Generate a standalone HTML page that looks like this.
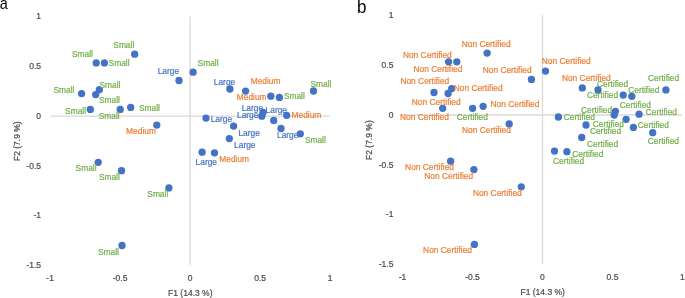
<!DOCTYPE html>
<html><head><meta charset="utf-8"><style>
html,body{margin:0;padding:0;background:#fff;}
svg{display:block;filter:blur(0.35px);}
text{font-family:"Liberation Sans",sans-serif;stroke-width:0.2px;paint-order:stroke;}
</style></head><body>
<svg width="685" height="298" viewBox="0 0 685 298">
<text transform="translate(-0.2,9.0) scale(0.9,1)" font-size="16" fill="#000">a</text>
<text transform="translate(357,12.6) scale(1,1.08)" font-size="17" fill="#000">b</text>
<g id="pa">
<g font-size="8.5">
<line x1="190.1" y1="16.3" x2="190.1" y2="264.7" stroke="#D9D9D9" stroke-width="1.3"/>
<line x1="49.9" y1="116.1" x2="329.9" y2="116.1" stroke="#D9D9D9" stroke-width="1.3"/>
<text x="41" y="19.2" text-anchor="end" fill="#4a4a4a" stroke="#4a4a4a">1</text>
<text x="41" y="69.4" text-anchor="end" fill="#4a4a4a" stroke="#4a4a4a">0.5</text>
<text x="41" y="118.9" text-anchor="end" fill="#4a4a4a" stroke="#4a4a4a">0</text>
<text x="41" y="169.2" text-anchor="end" fill="#4a4a4a" stroke="#4a4a4a">-0.5</text>
<text x="41" y="218.3" text-anchor="end" fill="#4a4a4a" stroke="#4a4a4a">-1</text>
<text x="41" y="268.1" text-anchor="end" fill="#4a4a4a" stroke="#4a4a4a">-1.5</text>
<text x="50.1" y="280.9" text-anchor="middle" fill="#4a4a4a" stroke="#4a4a4a">-1</text>
<text x="120.1" y="280.9" text-anchor="middle" fill="#4a4a4a" stroke="#4a4a4a">-0.5</text>
<text x="190.1" y="280.9" text-anchor="middle" fill="#4a4a4a" stroke="#4a4a4a">0</text>
<text x="260.1" y="280.9" text-anchor="middle" fill="#4a4a4a" stroke="#4a4a4a">0.5</text>
<text x="330.1" y="280.9" text-anchor="middle" fill="#4a4a4a" stroke="#4a4a4a">1</text>
<text x="190.3" y="296.0" text-anchor="middle" fill="#4a4a4a" stroke="#4a4a4a">F1 (14.3 %)</text>
<text transform="translate(19.9,141.2) rotate(-90)" text-anchor="middle" fill="#4a4a4a" stroke="#4a4a4a">F2 (7.9 %)</text>
</g>
<g fill="#4472C4">
<circle cx="96.2" cy="62.9" r="3.65"/>
<circle cx="104.4" cy="62.9" r="3.65"/>
<circle cx="134.7" cy="54.2" r="3.65"/>
<circle cx="81.6" cy="93.6" r="3.65"/>
<circle cx="99.3" cy="89.7" r="3.65"/>
<circle cx="95.7" cy="94.6" r="3.65"/>
<circle cx="90.3" cy="109.4" r="3.65"/>
<circle cx="120.2" cy="109.4" r="3.65"/>
<circle cx="130.7" cy="107.4" r="3.65"/>
<circle cx="156.8" cy="125.1" r="3.65"/>
<circle cx="193.1" cy="72.2" r="3.65"/>
<circle cx="179" cy="80.5" r="3.65"/>
<circle cx="229.9" cy="89.0" r="3.65"/>
<circle cx="245.6" cy="91.1" r="3.65"/>
<circle cx="270.8" cy="96.2" r="3.65"/>
<circle cx="279.4" cy="97.4" r="3.65"/>
<circle cx="313.5" cy="91.0" r="3.65"/>
<circle cx="206" cy="118.1" r="3.65"/>
<circle cx="233.6" cy="126.1" r="3.65"/>
<circle cx="229.3" cy="138.6" r="3.65"/>
<circle cx="263.0" cy="112.4" r="3.65"/>
<circle cx="261.8" cy="116.2" r="3.65"/>
<circle cx="273.7" cy="120.4" r="3.65"/>
<circle cx="286.7" cy="115.3" r="3.65"/>
<circle cx="281" cy="128.5" r="3.65"/>
<circle cx="300.3" cy="133.8" r="3.65"/>
<circle cx="202.1" cy="152.2" r="3.65"/>
<circle cx="214.5" cy="152.8" r="3.65"/>
<circle cx="98.2" cy="162.3" r="3.65"/>
<circle cx="121.5" cy="170.7" r="3.65"/>
<circle cx="168.9" cy="187.9" r="3.65"/>
<circle cx="122" cy="245.5" r="3.65"/>
</g>
</g>
<g transform="translate(352.4,-1.1)">
<g font-size="8.5">
<line x1="190.1" y1="16.3" x2="190.1" y2="264.7" stroke="#D9D9D9" stroke-width="1.3"/>
<line x1="49.9" y1="116.1" x2="329.9" y2="116.1" stroke="#D9D9D9" stroke-width="1.3"/>
<text x="41" y="19.2" text-anchor="end" fill="#4a4a4a" stroke="#4a4a4a">1</text>
<text x="41" y="69.4" text-anchor="end" fill="#4a4a4a" stroke="#4a4a4a">0.5</text>
<text x="41" y="118.9" text-anchor="end" fill="#4a4a4a" stroke="#4a4a4a">0</text>
<text x="41" y="169.2" text-anchor="end" fill="#4a4a4a" stroke="#4a4a4a">-0.5</text>
<text x="41" y="218.3" text-anchor="end" fill="#4a4a4a" stroke="#4a4a4a">-1</text>
<text x="41" y="268.1" text-anchor="end" fill="#4a4a4a" stroke="#4a4a4a">-1.5</text>
<text x="50.1" y="280.9" text-anchor="middle" fill="#4a4a4a" stroke="#4a4a4a">-1</text>
<text x="120.1" y="280.9" text-anchor="middle" fill="#4a4a4a" stroke="#4a4a4a">-0.5</text>
<text x="190.1" y="280.9" text-anchor="middle" fill="#4a4a4a" stroke="#4a4a4a">0</text>
<text x="260.1" y="280.9" text-anchor="middle" fill="#4a4a4a" stroke="#4a4a4a">0.5</text>
<text x="330.1" y="280.9" text-anchor="middle" fill="#4a4a4a" stroke="#4a4a4a">1</text>
<text x="190.3" y="296.0" text-anchor="middle" fill="#4a4a4a" stroke="#4a4a4a">F1 (14.3 %)</text>
<text transform="translate(19.9,141.2) rotate(-90)" text-anchor="middle" fill="#4a4a4a" stroke="#4a4a4a">F2 (7.9 %)</text>
</g>
<g fill="#4472C4">
<circle cx="96.2" cy="62.9" r="3.65"/>
<circle cx="104.4" cy="62.9" r="3.65"/>
<circle cx="134.7" cy="54.2" r="3.65"/>
<circle cx="81.6" cy="93.6" r="3.65"/>
<circle cx="99.3" cy="89.7" r="3.65"/>
<circle cx="95.7" cy="94.6" r="3.65"/>
<circle cx="90.3" cy="109.4" r="3.65"/>
<circle cx="120.2" cy="109.4" r="3.65"/>
<circle cx="130.7" cy="107.4" r="3.65"/>
<circle cx="156.8" cy="125.1" r="3.65"/>
<circle cx="193.1" cy="72.2" r="3.65"/>
<circle cx="179" cy="80.5" r="3.65"/>
<circle cx="229.9" cy="89.0" r="3.65"/>
<circle cx="245.6" cy="91.1" r="3.65"/>
<circle cx="270.8" cy="96.2" r="3.65"/>
<circle cx="279.4" cy="97.4" r="3.65"/>
<circle cx="313.5" cy="91.0" r="3.65"/>
<circle cx="206" cy="118.1" r="3.65"/>
<circle cx="233.6" cy="126.1" r="3.65"/>
<circle cx="229.3" cy="138.6" r="3.65"/>
<circle cx="263.0" cy="112.4" r="3.65"/>
<circle cx="261.8" cy="116.2" r="3.65"/>
<circle cx="273.7" cy="120.4" r="3.65"/>
<circle cx="286.7" cy="115.3" r="3.65"/>
<circle cx="281" cy="128.5" r="3.65"/>
<circle cx="300.3" cy="133.8" r="3.65"/>
<circle cx="202.1" cy="152.2" r="3.65"/>
<circle cx="214.5" cy="152.8" r="3.65"/>
<circle cx="98.2" cy="162.3" r="3.65"/>
<circle cx="121.5" cy="170.7" r="3.65"/>
<circle cx="168.9" cy="187.9" r="3.65"/>
<circle cx="122" cy="245.5" r="3.65"/>
</g>
</g>
<g font-size="8.4">
<text x="72" y="56.5" fill="#70AD47" stroke="#70AD47">Small</text>
<text x="108.6" y="65.6" fill="#70AD47" stroke="#70AD47">Small</text>
<text x="113.3" y="47.7" fill="#70AD47" stroke="#70AD47">Small</text>
<text x="53.5" y="93.0" fill="#70AD47" stroke="#70AD47">Small</text>
<text x="99.5" y="88.3" fill="#70AD47" stroke="#70AD47">Small</text>
<text x="99" y="103.0" fill="#70AD47" stroke="#70AD47">Small</text>
<text x="65.1" y="113.6" fill="#70AD47" stroke="#70AD47">Small</text>
<text x="98.7" y="119.1" fill="#70AD47" stroke="#70AD47">Small</text>
<text x="139" y="110.7" fill="#70AD47" stroke="#70AD47">Small</text>
<text x="197.6" y="66.1" fill="#70AD47" stroke="#70AD47">Small</text>
<text x="283.9" y="98.5" fill="#70AD47" stroke="#70AD47">Small</text>
<text x="310.5" y="87.2" fill="#70AD47" stroke="#70AD47">Small</text>
<text x="304.9" y="142.5" fill="#70AD47" stroke="#70AD47">Small</text>
<text x="75.6" y="170.9" fill="#70AD47" stroke="#70AD47">Small</text>
<text x="98.9" y="179.5" fill="#70AD47" stroke="#70AD47">Small</text>
<text x="147.3" y="196.9" fill="#70AD47" stroke="#70AD47">Small</text>
<text x="98" y="255.2" fill="#70AD47" stroke="#70AD47">Small</text>
<text x="126.1" y="134.2" fill="#ED7D31" stroke="#ED7D31">Medium</text>
<text x="250.7" y="84.0" fill="#ED7D31" stroke="#ED7D31">Medium</text>
<text x="236.8" y="99.9" fill="#ED7D31" stroke="#ED7D31">Medium</text>
<text x="291.5" y="117.5" fill="#ED7D31" stroke="#ED7D31">Medium</text>
<text x="219.3" y="162.2" fill="#ED7D31" stroke="#ED7D31">Medium</text>
<text x="157.7" y="74.1" fill="#4472C4" stroke="#4472C4">Large</text>
<text x="213.8" y="85.1" fill="#4472C4" stroke="#4472C4">Large</text>
<text x="210.7" y="122.1" fill="#4472C4" stroke="#4472C4">Large</text>
<text x="238.4" y="135.6" fill="#4472C4" stroke="#4472C4">Large</text>
<text x="234.1" y="148.3" fill="#4472C4" stroke="#4472C4">Large</text>
<text x="241.7" y="110.8" fill="#4472C4" stroke="#4472C4">Large</text>
<text x="237" y="117.8" fill="#4472C4" stroke="#4472C4">Large</text>
<text x="265.6" y="112.8" fill="#4472C4" stroke="#4472C4">Large</text>
<text x="277" y="138.3" fill="#4472C4" stroke="#4472C4">Large</text>
<text x="195.6" y="164.5" fill="#4472C4" stroke="#4472C4">Large</text>
<text x="402.9" y="58.2" fill="#ED7D31" stroke="#ED7D31">Non Certified</text>
<text x="461.7" y="47.3" fill="#ED7D31" stroke="#ED7D31">Non Certified</text>
<text x="413.5" y="72.1" fill="#ED7D31" stroke="#ED7D31">Non Certified</text>
<text x="400.4" y="84.2" fill="#ED7D31" stroke="#ED7D31">Non Certified</text>
<text x="453.7" y="90.9" fill="#ED7D31" stroke="#ED7D31">Non Certified</text>
<text x="411.8" y="104.9" fill="#ED7D31" stroke="#ED7D31">Non Certified</text>
<text x="400" y="120.4" fill="#ED7D31" stroke="#ED7D31">Non Certified</text>
<text x="482.7" y="73.4" fill="#ED7D31" stroke="#ED7D31">Non Certified</text>
<text x="541.8" y="64.4" fill="#ED7D31" stroke="#ED7D31">Non Certified</text>
<text x="561.9" y="81.2" fill="#ED7D31" stroke="#ED7D31">Non Certified</text>
<text x="490.5" y="106.8" fill="#ED7D31" stroke="#ED7D31">Non Certified</text>
<text x="462" y="132.9" fill="#ED7D31" stroke="#ED7D31">Non Certified</text>
<text x="405.1" y="170.2" fill="#ED7D31" stroke="#ED7D31">Non Certified</text>
<text x="424.3" y="179.1" fill="#ED7D31" stroke="#ED7D31">Non Certified</text>
<text x="472.9" y="196.2" fill="#ED7D31" stroke="#ED7D31">Non Certified</text>
<text x="423.1" y="253.2" fill="#ED7D31" stroke="#ED7D31">Non Certified</text>
<text x="456.7" y="120.0" fill="#70AD47" stroke="#70AD47">Certified</text>
<text x="648" y="80.7" fill="#70AD47" stroke="#70AD47">Certified</text>
<text x="597" y="86.8" fill="#70AD47" stroke="#70AD47">Certified</text>
<text x="628.2" y="92.6" fill="#70AD47" stroke="#70AD47">Certified</text>
<text x="586.9" y="98.4" fill="#70AD47" stroke="#70AD47">Certified</text>
<text x="619.8" y="108.1" fill="#70AD47" stroke="#70AD47">Certified</text>
<text x="581" y="112.9" fill="#70AD47" stroke="#70AD47">Certified</text>
<text x="645.8" y="115.1" fill="#70AD47" stroke="#70AD47">Certified</text>
<text x="563.8" y="119.9" fill="#70AD47" stroke="#70AD47">Certified</text>
<text x="592.8" y="127.0" fill="#70AD47" stroke="#70AD47">Certified</text>
<text x="637.7" y="127.7" fill="#70AD47" stroke="#70AD47">Certified</text>
<text x="589.9" y="134.1" fill="#70AD47" stroke="#70AD47">Certified</text>
<text x="587" y="146.8" fill="#70AD47" stroke="#70AD47">Certified</text>
<text x="647.8" y="144.1" fill="#70AD47" stroke="#70AD47">Certified</text>
<text x="572.2" y="157.4" fill="#70AD47" stroke="#70AD47">Certified</text>
<text x="553" y="163.6" fill="#70AD47" stroke="#70AD47">Certified</text>
</g>
</svg>
</body></html>
